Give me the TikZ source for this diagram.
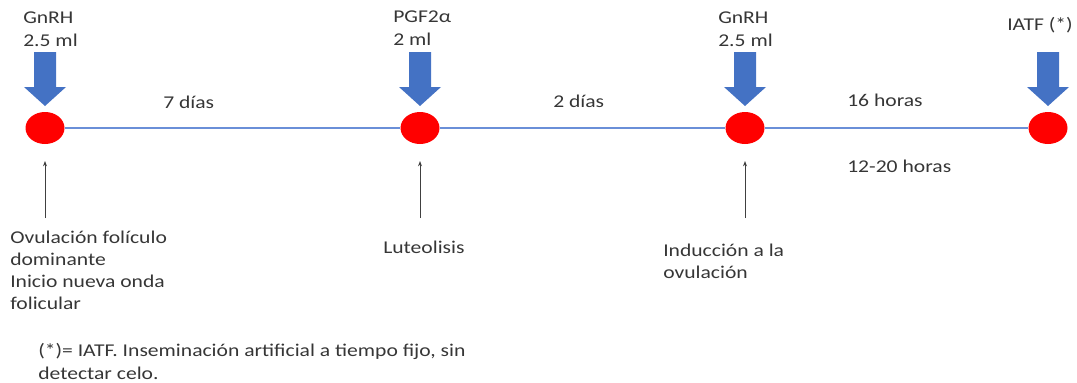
\documentclass[tikz,border=0pt]{standalone}
\usepackage{fontspec}
\setmainfont[FakeStretch=1.2]{Carlito}
\usetikzlibrary{shapes.geometric,arrows.meta,calc}
\definecolor{arrowblue}{HTML}{4472C4}
\definecolor{lineblue}{HTML}{6A8FD8}
\definecolor{txt}{HTML}{363636}
\tikzset{
  dot/.style={ellipse,fill=red,draw=none,minimum width=39*0.75pt,minimum height=32*0.75pt,inner sep=0pt},
  tl/.style={line width=0.9pt,draw=lineblue},
  lbl/.style={anchor=base west,inner sep=0pt,text=txt,font=\fontsize{13.5pt}{16.2pt}\selectfont,align=left},
  smallarr/.style={draw=black!75,line width=0.75pt,-{Stealth[length=4pt,width=3pt]}},
  bigarr/.style={fill=arrowblue,draw=none}
}
\newcommand{\bluearrow}[1]{%
  \fill[bigarr] ($(#1)+(-11,-76)$) -- ($(#1)+(11,-76)$) -- ($(#1)+(11,-41)$) -- ($(#1)+(21,-41)$)
    -- ($(#1)+(0,-22)$) -- ($(#1)+(-21,-41)$) -- ($(#1)+(-11,-41)$) -- cycle;}
\begin{document}
\begin{tikzpicture}[x=0.75pt,y=-0.75pt]
\useasboundingbox (0,0) rectangle (1077,382);
% timeline dots
\node[dot] (c1) at (45,128) {};
\node[dot] (c2) at (420,128) {};
\node[dot] (c3) at (745,128) {};
\node[dot] (c4) at (1048,128) {};
\draw[tl] (c1) -- (c2);
\draw[tl] (c2) -- (c3);
\draw[tl] (c3) -- (c4);
% blue arrows
\bluearrow{c1}
\bluearrow{c2}
\bluearrow{c3}
\bluearrow{c4}
% top labels
\node[lbl] (t1) at (23,23) {GnRH};
\node[lbl] (t1b) at (23,46.5) {2.5 ml};
\node[lbl] (t2) at (393,22) {PGF2α};
\node[lbl] (t2b) at (393,45) {2 ml};
\node[lbl] (t3) at (718,23) {GnRH};
\node[lbl] (t3b) at (718,46.5) {2.5 ml};
\node[lbl] (t4) at (1007,30) {IATF (*)};
% interval labels
\node[lbl] (i1) at (163,108) {7 días};
\node[lbl] (i2) at (553,107) {2 días};
\node[lbl] (i3) at (847,106) {16 horas};
\node[lbl] (i4) at (847,172) {12-20 horas};
% small arrows
\coordinate (s1) at (45,218);
\coordinate (s2) at (420,218);
\coordinate (s3) at (745,218);
\draw[smallarr] (s1) -- ++(0,-57);
\draw[smallarr] (s2) -- ++(0,-57);
\draw[smallarr] (s3) -- ++(0,-57);
% bottom labels (base anchor = last line)
\node[lbl,font=\fontsize{13.5pt}{16.5pt}\selectfont] (b1) at (10,309) {Ovulación folículo\\dominante\\Inicio nueva onda\\folicular};
\node[lbl] (b2) at (383,253) {Luteolisis};
\node[lbl,font=\fontsize{13.5pt}{16.3pt}\selectfont] (b3) at (663,278) {Inducción a la\\ovulación};
\node[lbl,font=\fontsize{13.5pt}{16.9pt}\selectfont] (fn) at (38,379) {(*)= IATF. Inseminación artificial a tiempo fijo, sin\\detectar celo.};
\end{tikzpicture}
\end{document}
